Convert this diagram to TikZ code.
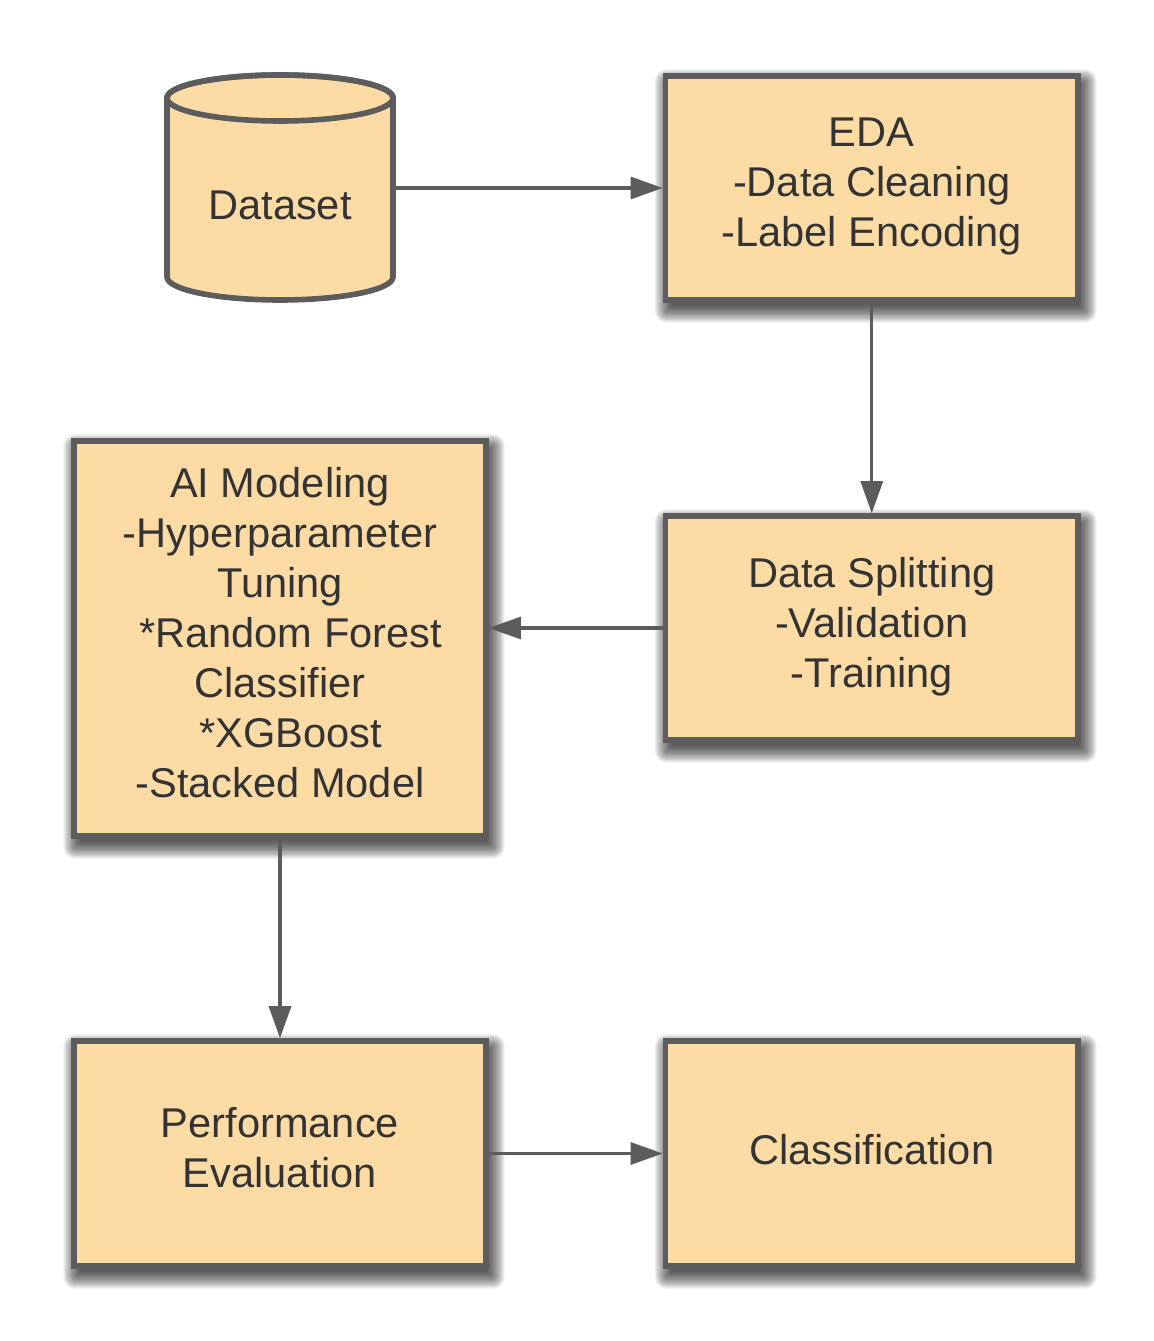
\documentclass[tikz,border=0pt]{standalone}
\usepackage{fontspec}
\setmainfont{Liberation Sans}
\usetikzlibrary{arrows.meta,calc}
\definecolor{boxfill}{HTML}{FDDBA5}
\definecolor{boxline}{HTML}{5C5C5C}
\definecolor{txt}{HTML}{333333}
\pgfdeclarelayer{bg}
\pgfdeclarelayer{shadowlayer}
\pgfsetlayers{bg,shadowlayer,main}
\newcommand{\softshadow}[1]{%
  \foreach \i in {0,...,13}{%
    \pgfmathsetmacro{\r}{-5+\i*1.3}%
    \fill[black,opacity=0.065,rounded corners={max(\r,0)*0.75pt+0.1pt}]
      ($(#1.south west)+(4-\r,-8-\r)$) rectangle ($(#1.north east)+(4+\r,-8+\r)$);
  }%
}
\begin{document}
\begin{tikzpicture}[x=0.75pt,y=0.75pt,
  box/.style={draw=boxline,fill=boxfill,line width=4.2pt,inner sep=0pt},
  conn/.style={draw=boxline,line width=2.3pt,-{Triangle[length=24pt,width=16.5pt]}},
  lbl/.style={text=txt,align=center,inner sep=0pt,font=\fontsize{31.2}{37.5}\selectfont}]
\useasboundingbox (0,0) rectangle (1153,-1341);
\begin{pgfonlayer}{bg}
\fill[white] (0,0) rectangle (1153,-1341);
\end{pgfonlayer}
% Dataset cylinder
\draw[draw=boxline,fill=boxfill,line width=4.2pt]
  (167,-98) -- (167,-277) arc[start angle=180,end angle=360,x radius=113,y radius=23]
  -- (393,-98) arc[start angle=0,end angle=180,x radius=113,y radius=23] -- cycle;
\draw[draw=boxline,line width=4.2pt] (280,-98) ellipse[x radius=113,y radius=23];
\node[inner sep=0pt,outer sep=2.1pt,minimum width=226*0.75pt,minimum height=180*0.75pt] (ds) at (280,-188) {};
\node[lbl] (dstxt) at (280,-205) {Dataset};
% boxes
\node[box,minimum width=412.5*0.75pt,minimum height=224*0.75pt] (eda) at (871.75,-188) {};
\node[box,minimum width=412.5*0.75pt,minimum height=224*0.75pt] (split) at (871.75,-628) {};
\node[box,minimum width=412*0.75pt,minimum height=395*0.75pt] (ai) at (280,-638.5) {};
\node[box,minimum width=412*0.75pt,minimum height=225*0.75pt] (perf) at (280,-1153.5) {};
\node[box,minimum width=412.5*0.75pt,minimum height=225*0.75pt] (cls) at (871.75,-1153.5) {};
% shadows
\begin{pgfonlayer}{shadowlayer}
\softshadow{eda}
\softshadow{split}
\softshadow{ai}
\softshadow{perf}
\softshadow{cls}
\end{pgfonlayer}
% texts
\node[lbl] (edatxt) at (871.75,-187) {EDA\\-Data Cleaning\\-Label Encoding};
\node[lbl] (splittxt) at (871.75,-627) {Data Splitting\\-Validation\\-Training};
\node[lbl] (aitxt) at (280,-632.5)
  {AI Modeling\\-Hyperparameter\\Tuning\\\hspace*{16pt}*Random Forest\\Classifier\\\hspace*{16pt}*XGBoost\\-Stacked Model};
\node[lbl] (perftxt) at (280,-1147.5) {Performance\\Evaluation};
\node[lbl] (clstxt) at (871.75,-1150) {Classification};
% connectors
\draw[conn] (ds.east) -- (ds.east -| eda.west);
\draw[conn] (eda.south) -- (split.north);
\draw[conn] (split.west) -- (split.west -| ai.east);
\draw[conn] (ai.south) -- (perf.north);
\draw[conn] (perf.east) -- (cls.west);
\end{tikzpicture}
\end{document}
